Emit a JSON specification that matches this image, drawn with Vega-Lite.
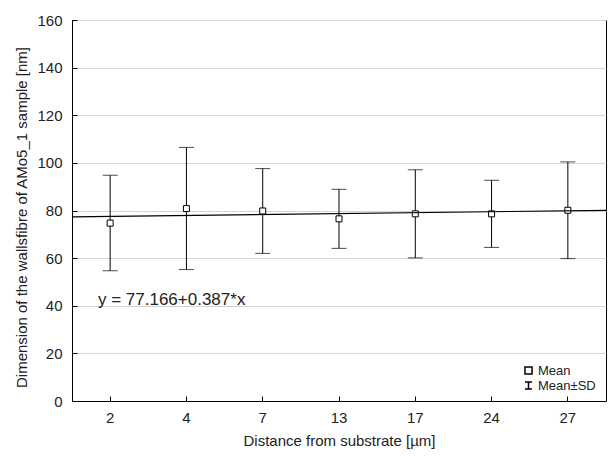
{
  "$schema": "https://vega.github.io/schema/vega-lite/v6.json",
  "width": 534,
  "height": 381,
  "autosize": {"type": "none"},
  "padding": {"left": 72, "top": 20, "right": 2, "bottom": 55},
  "background": "white",
  "config": {
    "font": "Liberation Sans",
    "view": {"stroke": "black", "strokeWidth": 1},
    "axis": {
      "labelFont": "Liberation Sans",
      "titleFont": "Liberation Sans",
      "labelFontSize": 15,
      "titleFontSize": 15,
      "titleFontWeight": "normal",
      "labelColor": "#222",
      "titleColor": "#222",
      "domainColor": "black",
      "tickColor": "black",
      "tickSize": -5
    }
  },
  "datasets": {
    "stats": [
      {"distance": "2", "mean": 74.7, "lo": 54.7, "hi": 94.8},
      {"distance": "4", "mean": 80.8, "lo": 55.2, "hi": 106.5},
      {"distance": "7", "mean": 79.8, "lo": 62.0, "hi": 97.6},
      {"distance": "13", "mean": 76.5, "lo": 64.1, "hi": 88.9},
      {"distance": "17", "mean": 78.6, "lo": 60.1, "hi": 97.1},
      {"distance": "24", "mean": 78.6, "lo": 64.5, "hi": 92.7},
      {"distance": "27", "mean": 80.1, "lo": 59.8, "hi": 100.4}
    ],
    "fit": [
      {"t": 0.5, "y": 77.36},
      {"t": 7.5, "y": 80.07}
    ],
    "note": [
      {"t": 0.84, "y": 40.3, "label": "y = 77.166+0.387*x"}
    ]
  },
  "layer": [
    {
      "data": {"name": "stats"},
      "encoding": {
        "x": {
          "field": "distance",
          "type": "ordinal",
          "sort": null,
          "scale": {"paddingInner": 0, "paddingOuter": 0},
          "axis": {
            "title": "Distance from substrate [µm]",
            "labelAngle": 0,
            "grid": false,
            "labelPadding": 14,
            "titlePadding": 8
          }
        }
      },
      "layer": [
        {
          "mark": {"type": "rule", "color": "black", "strokeWidth": 1},
          "encoding": {
            "y": {
              "field": "lo",
              "type": "quantitative",
              "scale": {"domain": [0, 160], "nice": false},
              "axis": {
                "title": "Dimension of the wallsfibre of AMo5_1 sample [nm]",
                "values": [0, 20, 40, 60, 80, 100, 120, 140, 160],
                "grid": true,
                "gridColor": "#d4d4d4",
                "labelPadding": 15,
                "titlePadding": 7,
                "titleY": 197
              }
            },
            "y2": {"field": "hi"}
          }
        },
        {
          "mark": {"type": "tick", "color": "black", "size": 15, "thickness": 1},
          "encoding": {"y": {"field": "lo", "type": "quantitative"}}
        },
        {
          "mark": {"type": "tick", "color": "black", "size": 15, "thickness": 1},
          "encoding": {"y": {"field": "hi", "type": "quantitative"}}
        },
        {
          "mark": {"type": "point", "filled": false, "stroke": "black", "strokeWidth": 1, "size": 36, "opacity": 1, "fill": "white"},
          "encoding": {
            "y": {"field": "mean", "type": "quantitative"},
            "shape": {
              "datum": "Mean",
              "type": "nominal",
              "scale": {
                "domain": ["Mean", "Mean±SD"],
                "range": ["square", "M-1,-1H1M0,-1V1M-1,1H1"]
              },
              "legend": {
                "title": null,
                "orient": "none",
                "legendX": 450,
                "legendY": 344,
                "labelFontSize": 13,
                "labelColor": "#222",
                "labelFont": "Liberation Sans",
                "symbolSize": 50,
                "rowPadding": 0,
                "labelOffset": 3,
                "encode": {
                  "symbols": {
                    "enter": {
                      "shape": {"signal": "datum.label === 'Mean' ? 'M-1,-1L0.9,0.9M-0.3,-0.3H0.7V0.7H-0.3Z' : 'M-1,-1H1M0,-1V1M-1,1H1'"}
                    },
                    "update": {
                      "shape": {"signal": "datum.label === 'Mean' ? 'M-1,-1L0.9,0.9M-0.3,-0.3H0.7V0.7H-0.3Z' : 'M-1,-1H1M0,-1V1M-1,1H1'"},
                      "stroke": {"value": "black"},
                      "strokeWidth": {"value": 1},
                      "fill": {"value": "transparent"},
                      "opacity": {"value": 1},
                      "strokeOpacity": {"value": 1}
                    }
                  }
                }
              }
            }
          }
        }
      ]
    },
    {
      "encoding": {
        "x": {
          "field": "t",
          "type": "quantitative",
          "scale": {"domain": [0.5, 7.5], "nice": false, "zero": false},
          "axis": null
        }
      },
      "layer": [
        {
          "data": {"name": "fit"},
          "mark": {"type": "line", "color": "black", "strokeWidth": 1.2},
          "encoding": {"y": {"field": "y", "type": "quantitative"}}
        },
        {
          "data": {"name": "note"},
          "mark": {"type": "text", "align": "left", "baseline": "alphabetic", "fontSize": 17, "color": "#222", "font": "Liberation Sans"},
          "encoding": {
            "y": {"field": "y", "type": "quantitative"},
            "text": {"field": "label"}
          }
        }
      ]
    }
  ],
  "resolve": {"scale": {"x": "independent"}}
}
